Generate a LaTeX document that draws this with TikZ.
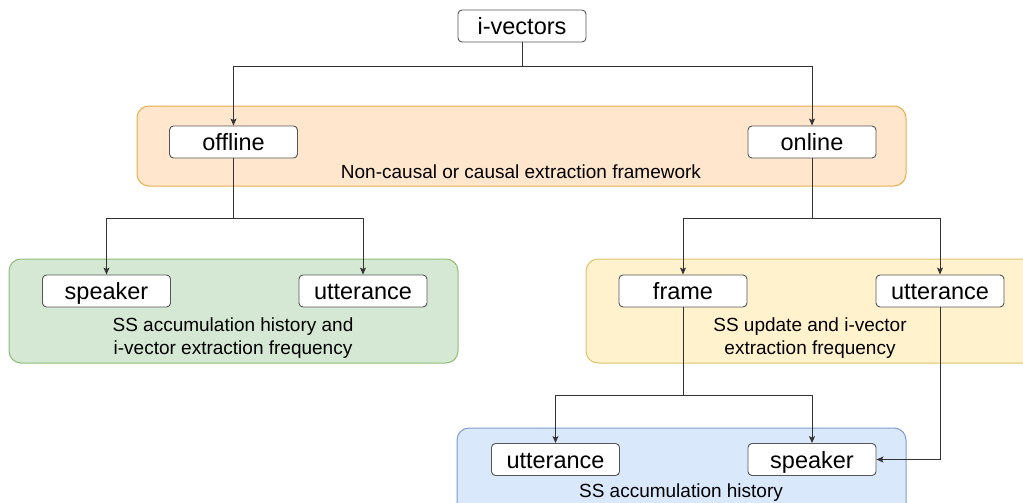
\documentclass[tikz,border=0pt]{standalone}
\usepackage{fontspec}
\setmainfont{Liberation Sans}
\usetikzlibrary{arrows.meta}
\definecolor{orfill}{HTML}{FFE6CC}\definecolor{ordraw}{HTML}{E3B04B}
\definecolor{grfill}{HTML}{D5E8D4}\definecolor{grdraw}{HTML}{8EBD74}
\definecolor{yefill}{HTML}{FFF2CC}\definecolor{yedraw}{HTML}{E0C36A}
\definecolor{blfill}{HTML}{DAE8FC}\definecolor{bldraw}{HTML}{7E9DCB}
\definecolor{boxdraw}{HTML}{555555}
\definecolor{linecol}{HTML}{333333}
\tikzset{
  x=1pt, y=-1pt,
  itembox/.style={draw=boxdraw, fill=white, rounded corners=4pt, line width=0.9pt,
    minimum width=128pt, minimum height=32pt, inner sep=0pt,
    text height=20pt, text depth=3pt,
    font=\fontsize{23.5}{26}\selectfont},
  group/.style={rounded corners=12pt, line width=1pt, inner sep=0pt},
  grouplabel/.style={align=center, font=\fontsize{19}{23}\selectfont, inner sep=0pt},
  conn/.style={draw=linecol, line width=0.9pt, -{Stealth[length=7pt,width=6pt,inset=1.5pt]}},
  plain/.style={draw=linecol, line width=0.9pt}
}
\begin{document}
\begin{tikzpicture}
\useasboundingbox (0,0) rectangle (1023,503);
\clip (0,0) rectangle (1023,503);
% containers
\node[group, draw=ordraw, fill=orfill, minimum width=769pt, minimum height=80pt] (gor) at (521.5,146) {};
\node[group, draw=grdraw, fill=grfill, minimum width=449pt, minimum height=104pt] (ggr) at (233.5,311) {};
\node[group, draw=yedraw, fill=yefill, minimum width=449pt, minimum height=104pt] (gye) at (810.5,311) {};
\node[group, draw=bldraw, fill=blfill, minimum width=449pt, minimum height=104pt] (gbl) at (681.5,480) {};
% group labels
\node[grouplabel] (lor) at (521,172) {Non-causal or causal extraction framework};
\node[grouplabel] (lgr) at (233,338) {SS accumulation history and\\i-vector extraction frequency};
\node[grouplabel] (lye) at (810,338) {SS update and i-vector\\extraction frequency};
\node[grouplabel] (lbl) at (681,493) {SS accumulation history};
% boxes
\node[itembox] (iv) at (522,26) {i-vectors};
\node[itembox] (off) at (233.5,142) {offline};
\node[itembox] (on) at (812,142) {online};
\node[itembox] (spk1) at (106.5,291) {speaker};
\node[itembox] (utt1) at (363,291) {utterance};
\node[itembox] (frm) at (683,291) {frame};
\node[itembox] (utt2) at (940,291) {utterance};
\node[itembox] (utt3) at (555.5,459.5) {utterance};
\node[itembox] (spk3) at (812,459.5) {speaker};
% junctions
\coordinate (j0) at (522,66);
\coordinate (j1) at (233.5,218);
\coordinate (j2) at (812,218);
\coordinate (j3) at (683,395);
% connectors
\draw[plain] (iv.south) -- (j0);
\draw[conn] (j0) -| (off.north);
\draw[conn] (j0) -| (on.north);
\draw[plain] (off.south) -- (j1);
\draw[conn] (j1) -| (spk1.north);
\draw[conn] (j1) -| (utt1.north);
\draw[plain] (on.south) -- (j2);
\draw[conn] (j2) -| (frm.north);
\draw[conn] (j2) -| (utt2.north);
\draw[plain] (frm.south) -- (j3);
\draw[conn] (j3) -| (utt3.north);
\draw[conn] (j3) -| (spk3.north);
\draw[conn] (utt2.south) |- (spk3.east);
\end{tikzpicture}
\end{document}
